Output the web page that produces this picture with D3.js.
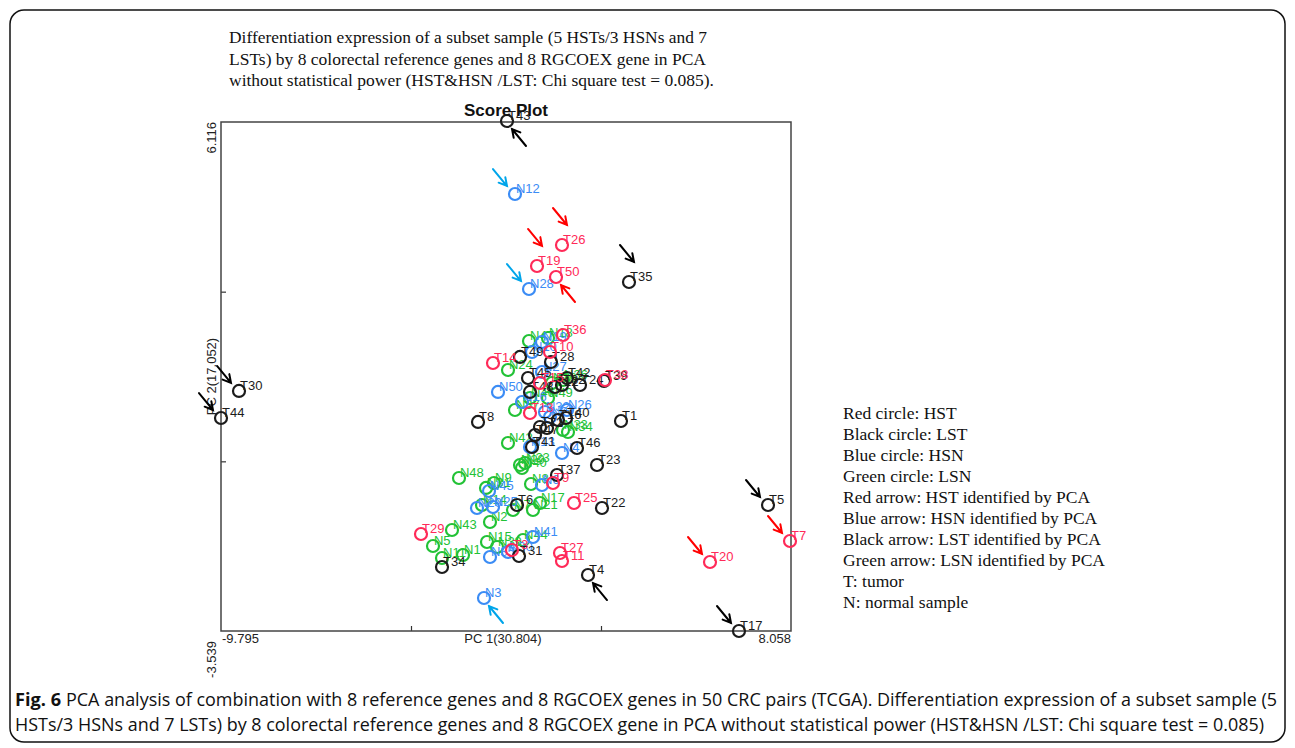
<!DOCTYPE html>
<html>
<head>
<meta charset="utf-8">
<script src="https://cdn.jsdelivr.net/npm/d3@7"></script>
<style>
  body { margin: 0; background: #fff; }
  svg { display: block; }
</style>
</head>
<body>
<svg id="chart" width="1295" height="748"></svg>
<script>
// axis ranges and labels
const xDomain = [-9.795, 8.058];
const yDomain = [-3.539, 6.116];
const xAxisLabel = "PC 1(30.804)";
const yAxisLabel = "PC 2(17.052)";
const chartTitle = "Score Plot";

// scores: [sample, PC1, PC2]
const hst = [
  ["T26", 0.885, 3.783], ["T19", 0.103, 3.385], ["T50", 0.698, 3.176],
  ["T36", 0.917, 2.076], ["T10", 0.510, 1.753], ["T14", -1.276, 1.545],
  ["T38", 2.232, 1.222], ["T15", 0.196, 1.165], ["T13", -0.117, 0.596],
  ["T9", 0.604, -0.732], ["T25", 1.261, -1.111], ["T29", -3.531, -1.699],
  ["T3", -0.681, -2.003], ["T27", 0.823, -2.059], ["T11", 0.885, -2.211],
  ["T20", 5.521, -2.230], ["T7", 8.027, -1.832]
];
const lst = [
  ["T43", -0.837, 6.135], ["T35", 2.984, 3.081], ["T49", -0.430, 1.659],
  ["T28", 0.541, 1.564], ["T45", -0.179, 1.260], ["T42", 1.042, 1.260],
  ["T24", 1.449, 1.127], ["T12", 0.666, 1.089], ["T32", 0.885, 1.127],
  ["T39", 2.201, 1.203], ["T30", -9.231, 1.014], ["T44", -9.795, 0.501],
  ["T48", -0.117, 0.995], ["T8", -1.745, 0.426], ["T1", 2.733, 0.444],
  ["T40", 1.011, 0.501], ["T16", 0.760, 0.463], ["T21", 0.196, 0.331],
  ["T2", 0.416, 0.312], ["T47", 0.040, 0.179], ["T46", 1.355, -0.068],
  ["T41", -0.054, -0.049], ["T23", 1.982, -0.390], ["T37", 0.729, -0.580],
  ["T6", -0.524, -1.149], ["T22", 2.138, -1.206], ["T5", 7.338, -1.149],
  ["T31", -0.461, -2.116], ["T34", -2.873, -2.325], ["T4", 1.700, -2.477],
  ["T17", 6.429, -3.539]
];
const hsn = [
  ["N12", -0.587, 4.750], ["N28", -0.148, 2.948], ["N19", 0.259, 1.943],
  ["N10", -0.054, 1.753], ["N27", 0.259, 1.374], ["N50", -1.119, 0.995],
  ["N16", -0.367, 0.805], ["N32", 0.353, 0.615], ["N22", 0.510, 0.520],
  ["N26", 1.042, 0.653], ["N13", -0.117, -0.049], ["N4", 0.885, -0.163],
  ["N45", -1.401, -0.883], ["N20", -1.777, -1.206], ["N25", -1.276, -1.187],
  ["N6", 0.259, -0.770], ["N35", -1.370, -2.135], ["N30", -0.806, -2.040],
  ["N41", -0.023, -1.756], ["N3", -1.558, -2.913]
];
const lsn = [
  ["N47", -0.148, 1.962], ["N18", 0.447, 2.019], ["N24", -0.806, 1.412],
  ["N38", 0.572, 1.165], ["N36", 0.917, 1.222], ["N46", -0.117, 0.881],
  ["N49", 0.447, 0.881], ["N37", -0.587, 0.653], ["N33", 0.917, 0.274],
  ["N34", 1.073, 0.236], ["N42", -0.806, 0.027], ["N29", -0.430, -0.390],
  ["N23", -0.273, -0.352], ["N40", -0.367, -0.447], ["N48", -2.341, -0.637],
  ["N9", -1.244, -0.732], ["N31", -1.495, -0.826], ["N14", -1.620, -1.149],
  ["N2", -1.370, -1.471], ["N7", -0.649, -1.244], ["N17", 0.196, -1.111],
  ["N21", -0.023, -1.244], ["N8", -0.085, -0.751], ["N43", -2.560, -1.623],
  ["N5", -3.155, -1.927], ["N11", -2.873, -2.154], ["N1", -2.215, -2.097],
  ["N15", -1.464, -1.851], ["N39", -1.150, -1.946], ["N44", -0.336, -1.813]
];

// samples flagged by PCA: [sample, arrow kind]
const arrows = [
  ["T26", "label"], ["T19", "label"], ["T50", "below"], ["T20", "circle"], ["T7", "circle"],
  ["N12", "circle"], ["N28", "circle"], ["N3", "below"],
  ["T43", "below"], ["T35", "label"], ["T30", "circle"], ["T44", "circle"],
  ["T5", "circle"], ["T4", "below"], ["T17", "circle"]
];

const topNote = [
  "Differentiation expression of a subset sample (5 HSTs/3 HSNs and 7",
  "LSTs) by 8 colorectal reference genes and 8 RGCOEX gene in PCA",
  "without statistical power (HST&HSN /LST: Chi square test = 0.085)."
];
const topNoteWidths = [478, 477, 485];
const legendLines = [
  "Red circle: HST", "Black circle: LST", "Blue circle: HSN", "Green circle: LSN",
  "Red arrow: HST identified by PCA", "Blue arrow: HSN identified by PCA",
  "Black arrow: LST identified by PCA", "Green arrow: LSN identified by PCA",
  "T: tumor", "N: normal sample"
];
const captionBold = "Fig. 6";
const captionLines = [
  "PCA analysis of combination with 8 reference genes and 8 RGCOEX genes in 50 CRC pairs (TCGA). Differentiation expression of a subset sample (5",
  "HSTs/3 HSNs and 7 LSTs) by 8 colorectal reference genes and 8 RGCOEX gene in PCA without statistical power (HST&HSN /LST: Chi square test = 0.085)"
];

const groups = [
  { pts: lsn, color: "#22c236", arrow: "#22c236" },
  { pts: hsn, color: "#3b8cf5", arrow: "#00a5ea" },
  { pts: lst, color: "#1c1c1c", arrow: "#000000" },
  { pts: hst, color: "#ff2a58", arrow: "#ff0000" }
];

const svg = d3.select("#chart");
const plot = { left: 221, right: 791, top: 122, bottom: 631 };

// page frame
svg.append("rect")
  .attr("x", 10).attr("y", 10)
  .attr("width", 1275).attr("height", 732)
  .attr("rx", 14)
  .attr("fill", "none").attr("stroke", "#111").attr("stroke-width", 1.5);

// note above the chart
svg.append("g").selectAll("text")
  .data(topNote).join("text")
  .attr("x", 229).attr("y", (d, i) => 43 + i * 21.5)
  .attr("font-family", "Liberation Serif, serif")
  .attr("font-size", 17)
  .attr("textLength", (d, i) => topNoteWidths[i])
  .attr("lengthAdjust", "spacingAndGlyphs")
  .attr("fill", "#111")
  .text(d => d);

const x = d3.scaleLinear().domain(xDomain).range([plot.left, plot.right]);
const y = d3.scaleLinear().domain(yDomain).range([plot.bottom, plot.top]);

const thirds = (dom) => [dom[0] + (dom[1] - dom[0]) / 3, dom[0] + 2 * (dom[1] - dom[0]) / 3];

svg.append("g")
  .attr("transform", `translate(0,${plot.bottom})`)
  .call(d3.axisBottom(x).tickValues(thirds(xDomain)).tickFormat("").tickSizeInner(-5).tickSizeOuter(0))
  .call(g => g.select(".domain").remove())
  .call(g => g.selectAll("line").attr("stroke", "#333").attr("stroke-width", 1.2));

svg.append("g")
  .attr("transform", `translate(${plot.left},0)`)
  .call(d3.axisLeft(y).tickValues(thirds(yDomain)).tickFormat("").tickSizeInner(-5).tickSizeOuter(0))
  .call(g => g.select(".domain").remove())
  .call(g => g.selectAll("line").attr("stroke", "#333").attr("stroke-width", 1.2));

svg.append("rect")
  .attr("x", plot.left).attr("y", plot.top)
  .attr("width", plot.right - plot.left).attr("height", plot.bottom - plot.top)
  .attr("fill", "none").attr("stroke", "#444").attr("stroke-width", 1.5);

const axisFont = "Liberation Sans, Arial, sans-serif";

// axis end values
svg.append("text").attr("x", plot.left + 1).attr("y", 643)
  .attr("font-family", axisFont).attr("font-size", 13).attr("fill", "#222")
  .text(xDomain[0]);
svg.append("text").attr("x", plot.right).attr("y", 643)
  .attr("text-anchor", "end")
  .attr("font-family", axisFont).attr("font-size", 13).attr("fill", "#222")
  .text(xDomain[1]);
svg.append("text").attr("x", 503).attr("y", 643)
  .attr("text-anchor", "middle")
  .attr("font-family", axisFont).attr("font-size", 13).attr("fill", "#222")
  .text(xAxisLabel);

svg.append("text")
  .attr("transform", `translate(216,${plot.top}) rotate(-90)`)
  .attr("text-anchor", "end")
  .attr("font-family", axisFont).attr("font-size", 13).attr("fill", "#222")
  .text(yDomain[1]);
svg.append("text")
  .attr("transform", "translate(216,641) rotate(-90)")
  .attr("text-anchor", "end")
  .attr("font-family", axisFont).attr("font-size", 13).attr("fill", "#222")
  .text(yDomain[0]);
svg.append("text")
  .attr("transform", `translate(216,${(plot.top + plot.bottom) / 2}) rotate(-90)`)
  .attr("text-anchor", "middle")
  .attr("font-family", axisFont).attr("font-size", 13).attr("fill", "#222")
  .text(yAxisLabel);

// points
const lookup = {};
groups.forEach(gr => {
  const g = svg.append("g");
  gr.pts.forEach(p => { lookup[p[0]] = { d: p, color: gr.arrow }; });
  g.selectAll("circle")
    .data(gr.pts).join("circle")
    .attr("cx", d => x(d[1])).attr("cy", d => y(d[2]))
    .attr("r", 6)
    .attr("fill", "none").attr("stroke", gr.color).attr("stroke-width", 2.2);
  g.selectAll("text")
    .data(gr.pts).join("text")
    .attr("x", d => x(d[1]) + 1).attr("y", d => y(d[2]) - 1)
    .attr("font-family", axisFont).attr("font-size", 13)
    .attr("fill", gr.color)
    .text(d => d[0]);
});

// arrows
const tipOffset = { circle: [-8, -8], label: [5, -20], below: [5, 8] };
const arrowG = svg.append("g").attr("fill", "none").attr("stroke-width", 2).attr("stroke-linecap", "round");
arrows.forEach(([id, kind]) => {
  const p = lookup[id];
  const cx = x(p.d[1]), cy = y(p.d[2]);
  const tx = cx + tipOffset[kind][0], ty = cy + tipOffset[kind][1];
  const dir = kind === "below" ? -1 : 1;
  const sx = tx - dir * 14, sy = ty - dir * 17;
  const ang = Math.atan2(ty - sy, tx - sx);
  const head = 9, spread = 0.5;
  const h1 = [tx - head * Math.cos(ang - spread), ty - head * Math.sin(ang - spread)];
  const h2 = [tx - head * Math.cos(ang + spread), ty - head * Math.sin(ang + spread)];
  arrowG.append("path")
    .attr("d", `M${sx},${sy}L${tx},${ty}M${h1[0]},${h1[1]}L${tx},${ty}L${h2[0]},${h2[1]}`)
    .attr("stroke", p.color);
});

// title over the plot
svg.append("text")
  .attr("x", 506).attr("y", 116)
  .attr("text-anchor", "middle")
  .attr("font-family", axisFont).attr("font-weight", "bold").attr("font-size", 17)
  .attr("fill", "#111")
  .text(chartTitle);

// legend text
svg.append("g").selectAll("text")
  .data(legendLines).join("text")
  .attr("x", 843).attr("y", (d, i) => 419 + i * 21)
  .attr("font-family", "Liberation Serif, serif")
  .attr("font-size", 17.5)
  .attr("fill", "#111")
  .text(d => d);

// caption
const capFont = "Open Sans, Noto Sans, sans-serif";
svg.append("text").attr("x", 15).attr("y", 706)
  .attr("font-family", capFont).attr("font-weight", "bold").attr("font-size", 17.5)
  .attr("textLength", 46).attr("lengthAdjust", "spacingAndGlyphs")
  .attr("fill", "#111").text(captionBold);
svg.append("text").attr("x", 66).attr("y", 706)
  .attr("font-family", capFont).attr("font-size", 17.5)
  .attr("textLength", 1211).attr("lengthAdjust", "spacingAndGlyphs")
  .attr("fill", "#111").text(captionLines[0]);
svg.append("text").attr("x", 15).attr("y", 731)
  .attr("font-family", capFont).attr("font-size", 17.5)
  .attr("textLength", 1249).attr("lengthAdjust", "spacingAndGlyphs")
  .attr("fill", "#111").text(captionLines[1]);
</script>
</body>
</html>
